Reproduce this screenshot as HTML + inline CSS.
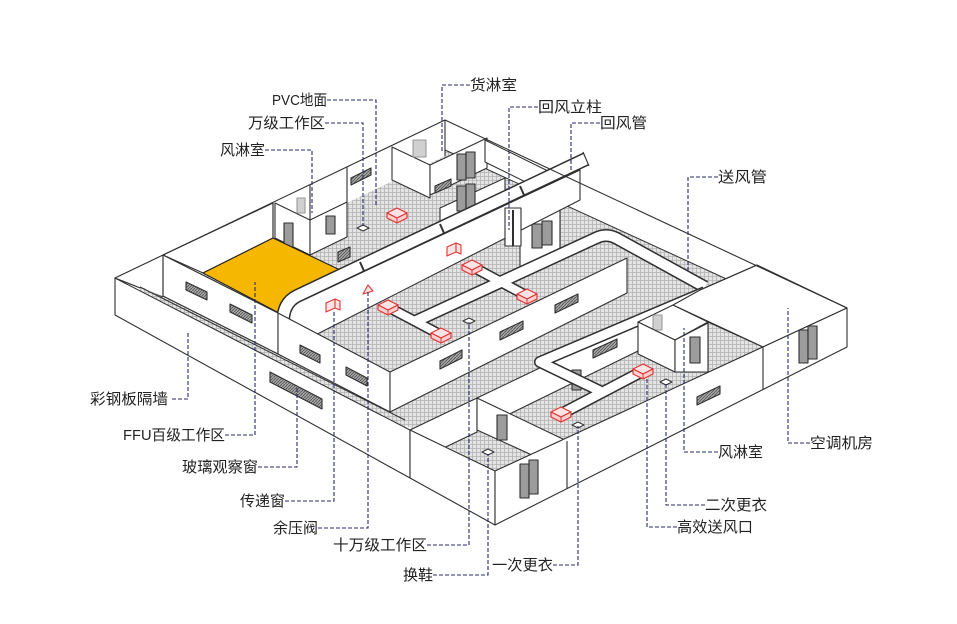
<!DOCTYPE html>
<html><head><meta charset="utf-8">
<style>
html,body{margin:0;padding:0;background:#fff;}
svg{display:block;}
text{font-family:"Liberation Sans","Noto Sans CJK SC",sans-serif;font-size:15px;fill:#222;}
</style></head>
<body>
<svg width="957" height="624" viewBox="0 0 957 624" xmlns="http://www.w3.org/2000/svg">
<defs>
<pattern id="h" width="4" height="4" patternUnits="userSpaceOnUse">
<rect width="4" height="4" fill="#e4e4e4"/>
<path d="M0 0.5H4M0.5 0V4" stroke="#b2b2b2" stroke-width="0.8"/>
</pattern>
<pattern id="wn" width="3" height="3" patternUnits="userSpaceOnUse">
<rect width="3" height="3" fill="#a8a8a8"/>
<path d="M0 3L3 0" stroke="#555" stroke-width="0.9"/>
</pattern>
<g id="df">
<path d="M-10,-2 L0,-7 L10,-2 L0,3 Z" fill="#fde4e4" stroke="#e03434" stroke-width="1.2"/>
<path d="M-10,-2 V3 L0,8 L10,3 V-2 L0,3 Z" fill="#fbd0d0" stroke="#e03434" stroke-width="1.2"/>
<path d="M0,3 V8" stroke="#e03434" stroke-width="1"/>
</g>
<g id="gr">
<path d="M-6,0 L0,-3 L6,0 L0,3 Z" fill="#fff" stroke="#333" stroke-width="1"/>
</g>
</defs>

<g stroke="#2f2f2f" stroke-width="1.1" stroke-linejoin="round" fill="none">

<!-- interior floor -->
<polygon points="115,278 445,120 847,308 495,471" fill="url(#h)" stroke="none"/>

<!-- back wall inner faces -->
<polygon points="163,255 445,120 445,156 163,291" fill="#fff" stroke="none"/>
<polygon points="445,120 757,265 757,293 445,150" fill="#fff" stroke="none"/>
<line x1="445" y1="150" x2="757" y2="293" stroke-width="1"/>
<polygon points="115,278 163,255 163,297 140,292" fill="#fff" stroke="none"/>
<line x1="115" y1="278" x2="163" y2="297"/>
<line x1="445" y1="120" x2="445" y2="156"/>

<!-- back room partitions -->
<polygon points="275,203 310,220 310,255 275,238" fill="#fff"/>
<polygon points="310,220 347,202 347,237 310,255" fill="#fff"/>
<line x1="310" y1="185" x2="310" y2="220"/>
<line x1="347" y1="167" x2="347" y2="202"/>
<polygon points="392,147 430,165 430,198 392,180" fill="#fff"/>
<polygon points="430,165 487,138 487,168 430,195" fill="#fff"/>
<polygon points="485,140 550,172 550,194 485,162" fill="#fff"/>
<polygon points="440,208 505,178 505,200 440,230" fill="#fff"/>
<polygon points="520,205 560,186 560,250 520,268" fill="#fff"/>
<!-- doors / windows back -->
<rect x="284" y="223" width="9" height="24" fill="#9c9c9c"/>
<rect x="326" y="216" width="9" height="18" fill="#9c9c9c"/>
<rect x="297" y="198" width="8" height="15" fill="#d0d0d0" stroke="#999"/>
<rect x="413" y="140" width="13" height="17" fill="#d0d0d0" stroke="#999"/>
<rect x="457" y="154" width="9" height="26" fill="#9c9c9c"/>
<rect x="466" y="152" width="9" height="26" fill="#9c9c9c"/>
<rect x="457" y="186" width="9" height="25" fill="#9c9c9c"/>
<rect x="466" y="184" width="9" height="25" fill="#9c9c9c"/>
<rect x="532" y="224" width="10" height="24" fill="#9c9c9c"/>
<rect x="542" y="221" width="10" height="24" fill="#9c9c9c"/>
<polygon points="351,178 371,168 371,175 351,185" fill="url(#wn)"/>
<polygon points="435,186 451,179 451,186 435,193" fill="url(#wn)"/>
<polygon points="338,252 350,247 350,257 338,262" fill="url(#wn)"/>
<use href="#df" x="397" y="215"/>
<use href="#gr" x="363" y="228"/>

<!-- FFU room top -->
<polygon points="163,255 273,203 273,238 203,273" fill="#fff"/>
<line x1="273" y1="203" x2="273" y2="238"/>
<path d="M203,273 L273,238 L340,270 L290,300 Q280,305 279,313 Z" fill="#f6b700" stroke="#222"/>

<!-- return duct + wall face -->
<polygon points="282,310 580,170 580,200 290,348" fill="#fff"/>
<path d="M283,322 Q283,303 297,296 L586,159" stroke="#2f2f2f" stroke-width="14" fill="none"/>
<path d="M283,322 Q283,303 297,296 L586,159" stroke="#fff" stroke-width="11" fill="none"/>
<path d="M360,262 l4,9 M440,224 l4,9 M520,186 l4,9" stroke="#333" stroke-width="2"/>
<line x1="583" y1="152" x2="589" y2="166"/>
<!-- return column -->
<rect x="505" y="208" width="16" height="38" fill="#fff"/>
<line x1="513" y1="210" x2="513" y2="246" stroke-width="2"/>
<!-- small red items on wall -->
<path d="M326,303 l9,-4 l0,9 l-9,4 z M335,299 l5,2 l0,9 l-5,-2" fill="#fde4e4" stroke="#e03434"/>
<path d="M447,247 l9,-4 l0,9 l-9,4 z M456,243 l5,2 l0,9 l-5,-2" fill="#fde4e4" stroke="#e03434"/>
<path d="M363,294 l5,-9 l5,6 z" fill="#fde4e4" stroke="#e03434"/>

<!-- central ducts -->
<g fill="none">
<path d="M414,322 L596,238 Q606,233 616,238 L705,287" stroke="#2f2f2f" stroke-width="13"/>
<path d="M388,307 L441,335 M473,267 L527,296" stroke="#2f2f2f" stroke-width="11"/>
<path d="M414,322 L596,238 Q606,233 616,238 L705,287" stroke="#fff" stroke-width="10"/>
<path d="M388,307 L441,335 M473,267 L527,296" stroke="#fff" stroke-width="8"/>
</g>
<use href="#df" x="388" y="307"/>
<use href="#df" x="441" y="335"/>
<use href="#df" x="472" y="267"/>
<use href="#df" x="527" y="296"/>
<use href="#gr" x="469" y="321"/>

<!-- inner front faces -->
<polygon points="163,255 278,313 278,354 163,296" fill="#fff"/>
<polygon points="278,313 390,372 390,412 278,354" fill="#fff"/>
<polygon points="390,372 627,258 627,293 390,412" fill="#fff"/>
<line x1="163" y1="255" x2="163" y2="296"/>
<polygon points="186,282 207,292 207,300 186,290" fill="url(#wn)"/>
<polygon points="230,304 252,315 252,323 230,312" fill="url(#wn)"/>
<polygon points="300,345 320,355 320,363 300,353" fill="url(#wn)"/>
<polygon points="346,367 367,378 367,386 346,375" fill="url(#wn)"/>
<polygon points="440,361 462,350 462,358 440,369" fill="url(#wn)"/>
<polygon points="500,332 523,321 523,329 500,340" fill="url(#wn)"/>
<polygon points="555,305 578,294 578,302 555,313" fill="url(#wn)"/>

<!-- lower area walls -->
<polygon points="477,398 640,320 640,350 477,430" fill="#fff"/>
<polygon points="593,350 617,339 617,347 593,358" fill="url(#wn)"/>
<rect x="572" y="370" width="9" height="20" fill="#9c9c9c"/>
<g fill="none">
<path d="M705,292 L540,362 L600,391 M643,371 L561,414" stroke="#2f2f2f" stroke-width="12"/>
<path d="M705,292 L540,362 L600,391 M643,371 L561,414" stroke="#fff" stroke-width="9"/>
</g>
<use href="#df" x="643" y="371"/>
<use href="#df" x="561" y="414"/>
<use href="#gr" x="578" y="425"/>
<use href="#gr" x="666" y="382"/>
<polygon points="410,430 477,398 477,432 410,464" fill="#fff"/>
<polygon points="477,398 567,441 567,471 477,430" fill="#fff"/>
<rect x="497" y="415" width="10" height="25" fill="#9c9c9c"/>
<use href="#gr" x="488" y="452"/>

<!-- right shower room -->
<polygon points="638,322 673,305 708,322 675,340" fill="#fff"/>
<rect x="653" y="315" width="9" height="15" fill="#d0d0d0" stroke="#999"/>
<polygon points="638,322 675,340 675,372 638,354" fill="#fff"/>
<polygon points="675,340 708,323 708,372 675,372" fill="#fff"/>
<rect x="690" y="337" width="10" height="26" fill="#9c9c9c"/>
<line x1="708" y1="322" x2="763" y2="347"/>

<!-- AC room -->
<polygon points="673,305 700,290 757,265 847,308 763,347" fill="#fff"/>
<line x1="700" y1="290" x2="757" y2="265"/>

<!-- strip -->
<polygon points="140,286 405,420 405,427 140,291" fill="url(#h)" stroke="none"/>
<line x1="140" y1="287" x2="405" y2="420" stroke-width="1"/>

<!-- outer faces -->
<polygon points="115,278 410,430 410,478 115,315" fill="#fff"/>
<polygon points="410,430 495,471 495,525 410,478" fill="#fff"/>
<polygon points="495,471 847,308 847,347 495,525" fill="#fff"/>
<line x1="567" y1="441" x2="567" y2="489"/>
<line x1="763" y1="347" x2="763" y2="389"/>
<polygon points="270,372 322,399 322,409 270,382" fill="url(#wn)"/>
<polygon points="697,397 720,386 720,394 697,405" fill="url(#wn)"/>
<rect x="520" y="464" width="9" height="34" fill="#9c9c9c"/>
<rect x="529" y="460" width="9" height="34" fill="#9c9c9c"/>
<rect x="799" y="330" width="9" height="33" fill="#9c9c9c"/>
<rect x="808" y="326" width="9" height="33" fill="#9c9c9c"/>

<!-- outer top edges -->
<polyline points="115,278 445,120 847,308"/>
</g>

<!-- leaders -->
<g fill="none" stroke="#2a2a6e" stroke-width="1.1" stroke-dasharray="4,2">
<polyline points="327,100 376,100 376,205"/>
<polyline points="325,123 363,123 363,226"/>
<polyline points="265,150 312,150 312,213"/>
<polyline points="470,85 442,85 442,153"/>
<polyline points="538,107 509,107 509,230"/>
<polyline points="600,123 571,123 571,170"/>
<polyline points="718,177 688,177 688,270"/>
<polyline points="172,399 188,399 188,332"/>
<polyline points="225,435 255,435 255,282"/>
<polyline points="258,467 297,467 297,387"/>
<polyline points="285,501 334,501 334,310"/>
<polyline points="318,528 368,528 368,292"/>
<polyline points="427,545 469,545 469,322"/>
<polyline points="433,575 488,575 488,454"/>
<polyline points="553,565 578,565 578,426"/>
<polyline points="677,527 647,527 647,377"/>
<polyline points="705,505 666,505 666,384"/>
<polyline points="718,452 684,452 684,328"/>
<polyline points="810,443 788,443 788,308"/>
</g>

<!-- labels -->
<text x="272" y="105" textLength="55" lengthAdjust="spacingAndGlyphs">PVC地面</text>
<text x="248" y="128" textLength="77" lengthAdjust="spacingAndGlyphs">万级工作区</text>
<text x="220" y="155" textLength="45" lengthAdjust="spacingAndGlyphs">风淋室</text>
<text x="470" y="90" textLength="47" lengthAdjust="spacingAndGlyphs">货淋室</text>
<text x="538" y="112" textLength="64" lengthAdjust="spacingAndGlyphs">回风立柱</text>
<text x="600" y="128" textLength="47" lengthAdjust="spacingAndGlyphs">回风管</text>
<text x="718" y="182" textLength="49" lengthAdjust="spacingAndGlyphs">送风管</text>
<text x="90" y="404" textLength="78" lengthAdjust="spacingAndGlyphs">彩钢板隔墙</text>
<text x="123" y="440" textLength="102" lengthAdjust="spacingAndGlyphs">FFU百级工作区</text>
<text x="182" y="472" textLength="76" lengthAdjust="spacingAndGlyphs">玻璃观察窗</text>
<text x="240" y="506" textLength="45" lengthAdjust="spacingAndGlyphs">传递窗</text>
<text x="273" y="533" textLength="45" lengthAdjust="spacingAndGlyphs">余压阀</text>
<text x="333" y="550" textLength="94" lengthAdjust="spacingAndGlyphs">十万级工作区</text>
<text x="403" y="580" textLength="30" lengthAdjust="spacingAndGlyphs">换鞋</text>
<text x="492" y="570" textLength="61" lengthAdjust="spacingAndGlyphs">一次更衣</text>
<text x="677" y="532" textLength="76" lengthAdjust="spacingAndGlyphs">高效送风口</text>
<text x="705" y="510" textLength="62" lengthAdjust="spacingAndGlyphs">二次更衣</text>
<text x="718" y="457" textLength="45" lengthAdjust="spacingAndGlyphs">风淋室</text>
<text x="810" y="448" textLength="63" lengthAdjust="spacingAndGlyphs">空调机房</text>
</svg>
</body></html>
